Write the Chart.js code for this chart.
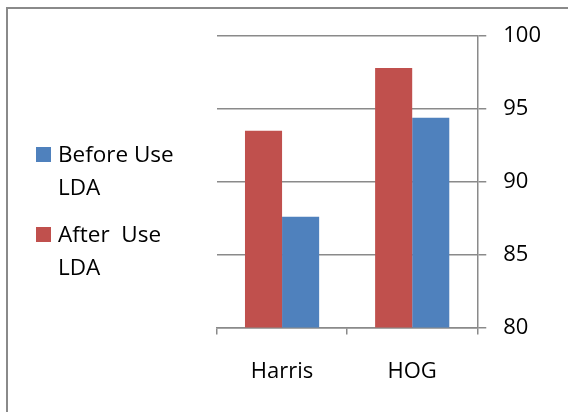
<!DOCTYPE html>
<html>
<head>
<meta charset="utf-8">
<script src="https://cdn.jsdelivr.net/npm/chart.js@4.4.1/dist/chart.umd.min.js"></script>
<style>
  html, body { margin: 0; padding: 0; background: #fff; }
  body { width: 568px; height: 412px; overflow: hidden; position: relative; }
  .frame {
    position: absolute; left: 6px; top: 7px; width: 600px; height: 450px;
    border-left: 2px solid #8a8a8a; border-top: 2px solid #8a8a8a;
  }
  #chart { position: absolute; left: 0; top: 0; }
</style>
</head>
<body>
<div class="frame"></div>
<canvas id="chart" width="568" height="412"></canvas>
<script>
const CATEGORIES = ["Harris", "HOG"];
const SERIES_NAMES = ["After  Use\nLDA", "Before Use\nLDA"];
const AFTER_LDA = [93.5, 97.8];
const BEFORE_LDA = [87.6, 94.4];
const Y_MIN = 80;
const Y_MAX = 100;
const Y_STEP = 5;

const RED = "#C0504D";
const BLUE = "#4F81BD";
const AXIS = "#8a8a8a";
const FONT = "'Open Sans', 'DejaVu Sans', sans-serif";

// legend drawn on the left, Excel style, with wrapped labels
const sideLegend = {
  id: "sideLegend",
  afterDraw(chart) {
    const ctx = chart.ctx;
    const items = chart.data.datasets.slice().reverse();
    ctx.save();
    ctx.font = `22.5px ${FONT}`;
    ctx.textBaseline = "alphabetic";
    items.forEach((ds, i) => {
      const top = 147 + i * 80;
      ctx.fillStyle = ds.backgroundColor;
      ctx.fillRect(36, top, 15, 15);
      ctx.fillStyle = "#000";
      ds.label.split("\n").forEach((line, j) => {
        ctx.fillText(line, 58, top + 15 + j * 33);
      });
    });
    ctx.restore();
  },
};

new Chart(document.getElementById("chart"), {
  type: "bar",
  data: {
    labels: CATEGORIES,
    datasets: [
      { label: SERIES_NAMES[0], data: AFTER_LDA, backgroundColor: RED },
      { label: SERIES_NAMES[1], data: BEFORE_LDA, backgroundColor: BLUE },
    ],
  },
  options: {
    responsive: false,
    animation: false,
    datasets: { bar: { barPercentage: 1, categoryPercentage: 0.57 } },
    layout: { padding: { left: 217, right: 10, top: 36, bottom: 3 } },
    plugins: { legend: { display: false }, tooltip: { enabled: false } },
    scales: {
      x: {
        offset: true,
        grid: { offset: true, drawOnChartArea: false, drawTicks: true, tickLength: 7, color: AXIS, lineWidth: 1.5 },
        border: { display: true, color: AXIS, width: 1.5 },
        ticks: { color: "#000", font: { family: FONT, size: 22 }, padding: 24 },
      },
      y: {
        position: "right",
        min: Y_MIN,
        max: Y_MAX,
        grid: { color: AXIS, lineWidth: 1.5, tickLength: 9 },
        border: { display: true, color: AXIS, width: 1.5 },
        ticks: { stepSize: Y_STEP, color: "#000", font: { family: FONT, size: 22 }, padding: 17 },
      },
    },
  },
  plugins: [sideLegend],
});
</script>
</body>
</html>
